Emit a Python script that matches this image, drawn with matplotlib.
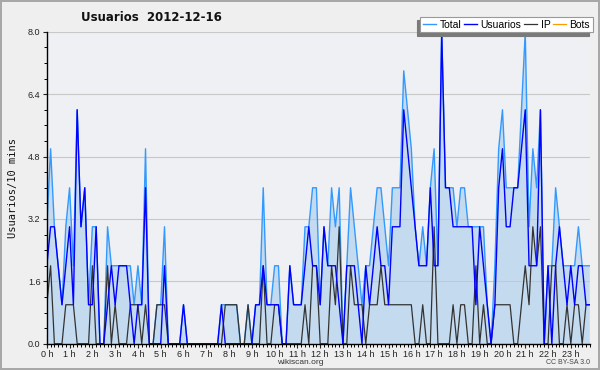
import matplotlib
matplotlib.use('Agg')
import matplotlib.pyplot as plt
import numpy as np

# usuarios por intervalo de 10 minutos, 2012-12-16 (144 intervalos)
total = [3, 5, 3, 2, 1, 3, 4, 2, 6, 3, 4, 1, 3, 3, 0, 0, 3, 2, 2, 2,
         2, 2, 2, 1, 2, 1, 5, 0, 0, 1, 1, 3, 0, 0, 0, 0, 1, 0, 0, 0,
         0, 0, 0, 0, 0, 0, 1, 1, 1, 1, 1, 0, 0, 1, 0, 1, 1, 4, 1, 1,
         2, 2, 0, 0, 2, 1, 1, 1, 3, 3, 4, 4, 1, 3, 2, 4, 3, 4, 0, 2,
         4, 3, 2, 1, 2, 2, 3, 4, 4, 3, 2, 4, 4, 4, 7, 6, 5, 3, 2, 3,
         2, 4, 5, 2, 8, 4, 4, 4, 3, 4, 4, 3, 3, 3, 3, 3, 1, 0, 2, 5,
         6, 4, 4, 4, 4, 6, 8, 3, 5, 4, 6, 0, 2, 2, 4, 3, 2, 2, 2, 2,
         3, 2, 2, 2]
usuarios = [2, 3, 3, 2, 1, 2, 3, 1, 6, 3, 4, 1, 1, 3, 0, 0, 1, 2, 1, 2,
            2, 2, 1, 0, 1, 1, 4, 0, 0, 0, 0, 2, 0, 0, 0, 0, 1, 0, 0, 0,
            0, 0, 0, 0, 0, 0, 1, 0, 0, 0, 0, 0, 0, 0, 0, 1, 1, 2, 1, 1,
            1, 1, 0, 0, 2, 1, 1, 1, 2, 3, 2, 2, 1, 3, 2, 2, 2, 1, 0, 2,
            2, 2, 1, 0, 2, 1, 2, 3, 2, 2, 1, 3, 3, 3, 6, 5, 4, 3, 2, 2,
            2, 4, 2, 2, 8, 4, 4, 3, 3, 3, 3, 3, 3, 1, 3, 2, 1, 0, 1, 4,
            5, 3, 3, 4, 4, 5, 6, 2, 2, 2, 6, 0, 2, 0, 2, 3, 2, 1, 2, 1,
            2, 2, 1, 1]
ip = [1, 2, 0, 0, 0, 1, 1, 1, 0, 0, 0, 0, 2, 0, 0, 0, 2, 0, 1, 0,
      0, 0, 1, 1, 1, 0, 1, 0, 0, 1, 1, 1, 0, 0, 0, 0, 0, 0, 0, 0,
      0, 0, 0, 0, 0, 0, 0, 1, 1, 1, 1, 0, 0, 1, 0, 0, 0, 2, 0, 0,
      1, 1, 0, 0, 0, 0, 0, 0, 1, 0, 2, 2, 0, 0, 0, 2, 1, 3, 0, 0,
      2, 1, 1, 1, 0, 1, 1, 1, 2, 1, 1, 1, 1, 1, 1, 1, 1, 0, 0, 1,
      0, 0, 3, 0, 0, 0, 0, 1, 0, 1, 1, 0, 0, 2, 0, 1, 0, 0, 1, 1,
      1, 1, 1, 0, 0, 1, 2, 1, 3, 2, 3, 0, 0, 2, 2, 0, 0, 1, 0, 1,
      1, 0, 1, 1]
bots = [0] * 144

hours = list(range(24))
hour_labels = ['%d h' % h for h in hours]

x = np.arange(len(total)) / 6.0

fig = plt.figure(figsize=(6, 3.7), dpi=100)
fig.patch.set_facecolor('#efefef')
fig.patch.set_edgecolor('#a8a8a8')
fig.patch.set_linewidth(1.5)

ax = fig.add_axes([0.078, 0.071, 0.905, 0.843])
ax.set_facecolor('#eef0f3')

# area under Total, grid lines stay visible on top of it
ax.fill_between(x, 0, total, facecolor='#c4daef', edgecolor='none', zorder=0.3)

ax.plot(x, bots, color='#ff9900', lw=0.9, zorder=1.5, label='Bots')
ax.plot(x, total, color='#3399ff', lw=1.0, zorder=3, label='Total')
ax.plot(x, ip, color='#333333', lw=0.9, zorder=4, label='IP')
ax.plot(x, usuarios, color='#0000ff', lw=1.0, zorder=5, label='Usuarios')

ax.set_xlim(0, x[-1])
ax.set_ylim(0, 8.0)
yt = np.arange(0, 8.01, 1.6)
ax.set_yticks(yt)
ax.set_yticklabels(['%.1f' % v for v in yt])
ax.set_yticks(np.arange(0, 8.01, 0.4), minor=True)
ax.set_xticks(hours)
ax.set_xticklabels(hour_labels)
ax.set_xticks(np.arange(0, x[-1] + 0.01, 1 / 6.0), minor=True)
ax.tick_params(axis='both', labelsize=6.5, colors='#222222', length=3, width=0.8, pad=1.5)
ax.tick_params(axis='both', which='minor', length=2.5, width=0.7)
for lab in ax.get_xticklabels() + ax.get_yticklabels():
    lab.set_family('Liberation Sans')
ax.grid(axis='y', color='#c8c8c8', lw=0.8, zorder=0.5)
ax.set_axisbelow(True)

for s in ['top', 'right']:
    ax.spines[s].set_visible(False)
for s in ['left', 'bottom']:
    ax.spines[s].set_linewidth(1.0)
    ax.spines[s].set_zorder(6)

handles, labels = ax.get_legend_handles_labels()
order = [labels.index(n) for n in ['Total', 'Usuarios', 'IP', 'Bots']]
leg = fig.legend([handles[i] for i in order], [labels[i] for i in order],
                 loc='upper right', bbox_to_anchor=(0.988, 0.954), borderaxespad=0,
                 ncol=4, prop={'family': 'Liberation Sans', 'size': 7.5},
                 handlelength=1.3, handletextpad=0.3, columnspacing=0.25,
                 borderpad=0.25, fancybox=False, framealpha=1, edgecolor='#999999',
                 shadow={'ox': -2.5, 'oy': -2.5, 'color': '#7a7a7a', 'alpha': 1})
leg.get_frame().set_linewidth(0.8)

fig.text(0.252, 0.954, 'Usuarios  2012-12-16', ha='center', va='center',
         fontsize=8.5, fontweight='bold', color='#111111')
fig.text(0.022, 0.492, 'Usuarios/10 mins', rotation=90, ha='center', va='center',
         fontsize=7.5, family='DejaVu Sans Mono', color='#111111')
fig.text(0.5, 0.019, 'wikiscan.org', ha='center', va='center', fontsize=6,
         family='Liberation Sans', color='#333333')
fig.text(0.983, 0.019, 'CC BY-SA 3.0', ha='right', va='center', fontsize=5,
         family='Liberation Sans', color='#444444')

fig.savefig('out.png', dpi=100, facecolor=fig.get_facecolor(), edgecolor=fig.get_edgecolor())
